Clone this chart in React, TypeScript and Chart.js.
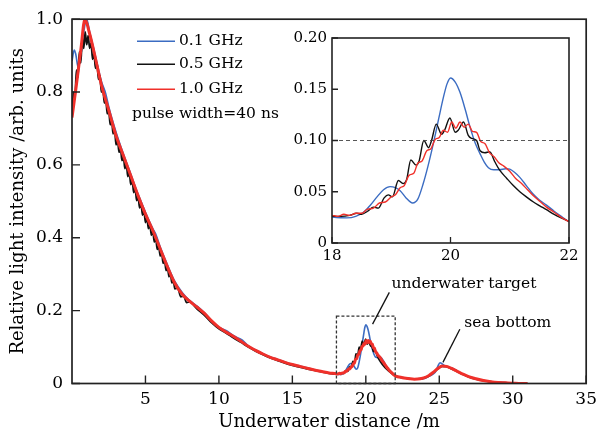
import React, { useEffect, useRef } from "react";
import { Chart, registerables } from "chart.js";

Chart.register(...registerables);

const FONT = "'DejaVu Serif', serif";

const seriesLabels = ["0.1 GHz", "0.5 GHz", "1.0 GHz"];
const seriesColors = ["#3b6cc2", "#111111", "#f0302a"];
const noteText = "pulse width=40 ns";
const xTitle = "Underwater distance /m";
const yTitle = "Relative light intensity /arb. units";

const xTicksMain = [5, 10, 15, 20, 25, 30, 35];
const yTicksMain = [0, 0.2, 0.4, 0.6, 0.8, 1.0];
const xTicksInset = [18, 20, 22];
const yTicksInset = [0, 0.05, 0.1, 0.15, 0.2];

// 0.1 GHz (blue)
const blueD = [
  0, 0.15, 0.25, 0.43, 0.6, 0.8, 1.0, 1.2, 1.5, 2.0, 2.3, 2.5, 3.0, 3.5, 4.0, 4.4, 4.6, 5.0, 5.5, 5.7,
  6.0, 6.5, 7.0, 7.5, 8.0, 8.6, 9.0, 9.5, 10.0, 10.6, 11.0, 11.6, 12.0, 12.5, 13.0, 13.5, 14.0, 14.5,
  15.0, 15.5, 16.0, 16.5, 17.0, 17.5,
  18.0, 18.25, 18.4, 18.53, 18.65, 18.76, 18.87, 18.98, 19.07, 19.15, 19.25, 19.36, 19.45, 19.54, 19.62,
  19.71, 19.8, 19.88, 19.94, 20.0, 20.08, 20.16, 20.25, 20.33, 20.42, 20.5, 20.57, 20.64, 20.73, 20.83,
  20.93, 21.0, 21.08, 21.17, 21.28, 21.39, 21.5, 21.62, 21.75, 21.87, 22.0,
  22.5, 23.0, 23.3, 23.7, 24.0, 24.3, 24.55, 24.75, 24.9, 25.05, 25.2, 25.4, 25.6, 25.9, 26.2, 26.6,
  27.0, 27.5, 28.0, 28.5, 29.0, 29.5, 30.0, 30.6, 31.0,
];
const blueV = [
  0.885, 0.915, 0.905, 0.866, 0.9, 0.965, 1.0, 0.965, 0.915, 0.83, 0.795, 0.76, 0.69, 0.63, 0.575, 0.53,
  0.51, 0.47, 0.425, 0.41, 0.375, 0.325, 0.28, 0.25, 0.228, 0.21, 0.195, 0.173, 0.155, 0.143, 0.131,
  0.119, 0.103, 0.092, 0.082, 0.073, 0.066, 0.059, 0.053, 0.048, 0.043, 0.038, 0.033, 0.029,
  0.0254, 0.0245, 0.026, 0.03, 0.037, 0.045, 0.052, 0.055, 0.054, 0.051, 0.044, 0.039, 0.043, 0.058,
  0.075, 0.097, 0.121, 0.142, 0.155, 0.161, 0.157, 0.147, 0.13, 0.113, 0.097, 0.087, 0.079, 0.0735,
  0.0715, 0.0715, 0.0725, 0.072, 0.069, 0.064, 0.056, 0.048, 0.042, 0.037, 0.031, 0.026, 0.021,
  0.016, 0.013, 0.012, 0.012, 0.014, 0.02, 0.025, 0.033, 0.047, 0.057, 0.054, 0.048, 0.046, 0.042,
  0.035, 0.026, 0.019, 0.013, 0.008, 0.005, 0.003, 0.002, 0.001, 0, 0,
];

// 0.5 GHz (black)
const blackD = [
  0.0, 0.1, 0.2, 0.3, 0.4, 0.5, 0.6, 0.7, 0.8, 0.9, 1.0, 1.1, 1.2, 1.3, 1.4, 1.5, 1.6, 1.7, 1.8, 1.9,
  2.0, 2.1, 2.2, 2.3, 2.4, 2.5, 2.6, 2.7, 2.8, 2.9, 3.0, 3.1, 3.2, 3.3, 3.4, 3.5, 3.6, 3.7, 3.8, 3.9,
  4.0, 4.1, 4.2, 4.3, 4.4, 4.5, 4.6, 4.7, 4.8, 4.9, 5.0, 5.1, 5.2, 5.3, 5.4, 5.5, 5.6, 5.7, 5.8, 5.9,
  6.0, 6.1, 6.2, 6.3, 6.4, 6.5, 6.6, 6.7, 6.8, 6.9, 7.0, 7.2, 7.4, 7.6, 7.8, 8.0,
  8.5, 9.0, 9.5, 10.0, 10.5, 11.0, 11.5, 12.0, 12.5, 13.0, 13.5, 14.0, 14.5, 15.0, 15.5, 16.0, 16.5,
  17.0, 17.5,
  18.0, 18.15, 18.3, 18.42, 18.5, 18.6, 18.7, 18.78, 18.88, 18.95, 19.02, 19.12, 19.2, 19.26, 19.33,
  19.42, 19.47, 19.55, 19.63, 19.68, 19.76, 19.85, 19.9, 19.99, 20.08, 20.13, 20.22, 20.3, 20.36,
  20.44, 20.5, 20.58, 20.66, 20.75, 20.83, 20.95, 21.06, 21.17, 21.28, 21.4, 21.5, 21.62, 21.75,
  21.87, 22.0,
  22.5, 23.0, 23.3, 23.7, 24.0, 24.3, 24.6, 24.9, 25.2, 25.5, 25.8, 26.2, 26.6, 27.0, 27.5, 28.0,
  28.5, 29.0, 29.5, 30.0, 30.6, 31.0,
];
const blackV = [
  0.74, 0.8, 0.78, 0.86, 0.84, 0.91, 0.88, 0.95, 0.92, 0.965, 0.93, 0.955, 0.92, 0.935, 0.89, 0.905,
  0.865, 0.88, 0.835, 0.845, 0.8, 0.81, 0.77, 0.78, 0.74, 0.75, 0.71, 0.72, 0.685, 0.695, 0.655,
  0.668, 0.635, 0.646, 0.612, 0.624, 0.59, 0.602, 0.568, 0.58, 0.546, 0.558, 0.524, 0.536, 0.502,
  0.514, 0.482, 0.494, 0.462, 0.474, 0.442, 0.455, 0.425, 0.437, 0.407, 0.419, 0.388, 0.399, 0.368,
  0.379, 0.35, 0.359, 0.33, 0.339, 0.31, 0.319, 0.293, 0.301, 0.276, 0.283, 0.26, 0.262, 0.238,
  0.24, 0.222, 0.224,
  0.205, 0.188, 0.167, 0.15, 0.138, 0.125, 0.113, 0.1, 0.089, 0.079, 0.07, 0.063, 0.056, 0.05,
  0.045, 0.04, 0.036, 0.032, 0.028,
  0.026, 0.026, 0.027, 0.029, 0.028, 0.031, 0.035, 0.034, 0.044, 0.047, 0.045, 0.061, 0.058, 0.062,
  0.081, 0.076, 0.08, 0.1, 0.093, 0.1, 0.116, 0.106, 0.11, 0.122, 0.108, 0.11, 0.118, 0.105, 0.102,
  0.1, 0.09, 0.088, 0.089, 0.079, 0.071, 0.063, 0.056, 0.05, 0.045, 0.04, 0.0365, 0.0325, 0.028,
  0.0245, 0.021,
  0.016, 0.013, 0.012, 0.013, 0.016, 0.021, 0.03, 0.04, 0.047, 0.046, 0.041, 0.033, 0.025, 0.018,
  0.012, 0.008, 0.005, 0.003, 0.002, 0.001, 0, 0,
];

// 1.0 GHz (red)
const redD = [
  0, 0.3, 0.6, 0.88, 1.2, 1.5, 2.0, 2.5, 3.0, 3.5, 4.0, 4.5, 5.0, 5.5, 6.0, 6.5, 7.0, 7.5, 8.0, 8.5,
  9.0, 9.5, 10.0, 10.5, 11.0, 11.5, 12.0, 12.5, 13.0, 13.5, 14.0, 14.5, 15.0, 15.5, 16.0, 16.5, 17.0,
  17.5,
  18.0, 18.1, 18.2, 18.3, 18.4, 18.5, 18.6, 18.7, 18.8, 18.9, 19.0, 19.07, 19.15, 19.22, 19.3, 19.38,
  19.45, 19.52, 19.6, 19.67, 19.74, 19.81, 19.88, 19.95, 20.02, 20.09, 20.16, 20.23, 20.3, 20.37,
  20.44, 20.51, 20.58, 20.66, 20.74, 20.82, 20.9, 21.0, 21.1, 21.2, 21.3, 21.4, 21.5, 21.62, 21.75,
  21.87, 22.0,
  22.5, 23.0, 23.3, 23.7, 24.0, 24.3, 24.6, 24.9, 25.2, 25.5, 25.8, 26.2, 26.6, 27.0, 27.5, 28.0,
  28.5, 29.0, 29.5, 30.0, 30.6, 31.0,
];
const redV = [
  0.73, 0.82, 0.915, 1.0, 0.96, 0.91, 0.82, 0.75, 0.68, 0.625, 0.57, 0.515, 0.465, 0.42, 0.37, 0.32,
  0.275, 0.245, 0.226, 0.21, 0.193, 0.172, 0.154, 0.141, 0.129, 0.116, 0.102, 0.091, 0.081, 0.072,
  0.065, 0.058, 0.052, 0.047, 0.042, 0.037, 0.033, 0.029,
  0.027, 0.026, 0.028, 0.027, 0.029, 0.029, 0.033, 0.034, 0.039, 0.04, 0.045, 0.047, 0.054, 0.056,
  0.066, 0.068, 0.078, 0.08, 0.09, 0.092, 0.101, 0.103, 0.11, 0.108, 0.118, 0.112, 0.118, 0.113,
  0.116, 0.109, 0.108, 0.099, 0.097, 0.088, 0.084, 0.078, 0.075, 0.07, 0.063, 0.058, 0.052, 0.046,
  0.041, 0.035, 0.03, 0.025, 0.021,
  0.016, 0.013, 0.012, 0.013, 0.016, 0.022, 0.031, 0.041, 0.048, 0.047, 0.042, 0.034, 0.026, 0.019,
  0.013, 0.008, 0.005, 0.003, 0.002, 0.001, 0, 0,
];

// annotation anchors in data units
const boxRange = { x0: 18, x1: 22, y0: 0, y1: 0.185 };
const targetNote = { text: "underwater target", tx: 21.75, ty: 0.272, lx0: 21.6, ly0: 0.25, lx1: 20.46, ly1: 0.163 };
const bottomNote = { text: "sea bottom", tx: 26.7, ty: 0.165, lx0: 26.4, ly0: 0.149, lx1: 25.25, ly1: 0.058 };

const toPts = (d: number[], v: number[]) => d.map((x, i) => ({ x, y: v[i] }));

function makeDatasets(widths: number[]) {
  const src = [
    [blueD, blueV],
    [blackD, blackV],
    [redD, redV],
  ];
  const orders = [2, 1, 0];
  return src.map(([d, v], i) => ({
    label: seriesLabels[i],
    data: toPts(d as number[], v as number[]),
    borderColor: seriesColors[i],
    backgroundColor: seriesColors[i],
    borderWidth: widths[i],
    pointRadius: 0,
    fill: false,
    cubicInterpolationMode: "monotone" as const,
    order: orders[i],
  }));
}

const TEXT = "#000";

const mainDecor = {
  id: "mainDecor",
  afterDatasetsDraw(chart: any) {
    const { ctx, chartArea: a, scales } = chart;
    const x = scales.x;
    const y = scales.y;
    ctx.save();
    // frame
    ctx.strokeStyle = "#222";
    ctx.lineWidth = 1.7;
    ctx.setLineDash([]);
    ctx.strokeRect(a.left, a.top, a.right - a.left, a.bottom - a.top);
    // inward ticks
    ctx.lineWidth = 1.4;
    ctx.beginPath();
    xTicksMain.forEach((v) => {
      const px = x.getPixelForValue(v);
      ctx.moveTo(px, a.bottom);
      ctx.lineTo(px, a.bottom - 8);
    });
    yTicksMain.forEach((v) => {
      const py = y.getPixelForValue(v);
      ctx.moveTo(a.left, py);
      ctx.lineTo(a.left + 8, py);
    });
    ctx.stroke();
    // dashed box
    ctx.strokeStyle = "#333";
    ctx.lineWidth = 1.3;
    ctx.setLineDash([3, 2]);
    const bx0 = x.getPixelForValue(boxRange.x0);
    const bx1 = x.getPixelForValue(boxRange.x1);
    const by0 = y.getPixelForValue(boxRange.y0);
    const by1 = y.getPixelForValue(boxRange.y1);
    ctx.strokeRect(bx0, by1, bx1 - bx0, by0 - by1);
    ctx.setLineDash([]);
    // annotations
    ctx.strokeStyle = "#111";
    ctx.lineWidth = 1.3;
    ctx.fillStyle = TEXT;
    ctx.font = `15.5px ${FONT}`;
    ctx.textBaseline = "middle";
    ctx.textAlign = "left";
    [targetNote, bottomNote].forEach((n) => {
      ctx.beginPath();
      ctx.moveTo(x.getPixelForValue(n.lx0), y.getPixelForValue(n.ly0));
      ctx.lineTo(x.getPixelForValue(n.lx1), y.getPixelForValue(n.ly1));
      ctx.stroke();
      ctx.fillText(n.text, x.getPixelForValue(n.tx), y.getPixelForValue(n.ty));
    });
    // legend
    const lx0 = a.left + 65;
    const lx1 = a.left + 103;
    const rows = [a.top + 22, a.top + 45, a.top + 70];
    ctx.font = `15.5px ${FONT}`;
    seriesLabels.forEach((lab, i) => {
      ctx.strokeStyle = seriesColors[i];
      ctx.lineWidth = i === 2 ? 1.6 : 1.4;
      ctx.beginPath();
      ctx.moveTo(lx0, rows[i]);
      ctx.lineTo(lx1, rows[i]);
      ctx.stroke();
      ctx.fillStyle = TEXT;
      ctx.fillText(lab, lx1 + 4, rows[i]);
    });
    ctx.fillText(noteText, a.left + 60, a.top + 95);
    ctx.restore();
  },
};

const insetDecor = {
  id: "insetDecor",
  afterDatasetsDraw(chart: any) {
    const { ctx, chartArea: a, scales } = chart;
    const x = scales.x;
    const y = scales.y;
    ctx.save();
    // dashed reference at 0.10
    ctx.strokeStyle = "#444";
    ctx.lineWidth = 0.9;
    ctx.setLineDash([4, 3]);
    const py = y.getPixelForValue(0.1);
    ctx.beginPath();
    ctx.moveTo(a.left, py);
    ctx.lineTo(a.right, py);
    ctx.stroke();
    ctx.setLineDash([]);
    ctx.strokeStyle = "#222";
    ctx.lineWidth = 1.6;
    ctx.strokeRect(a.left, a.top, a.right - a.left, a.bottom - a.top);
    ctx.lineWidth = 1.3;
    ctx.beginPath();
    xTicksInset.forEach((v) => {
      const px = x.getPixelForValue(v);
      ctx.moveTo(px, a.bottom);
      ctx.lineTo(px, a.bottom - 6);
    });
    yTicksInset.forEach((v) => {
      const p = y.getPixelForValue(v);
      ctx.moveTo(a.left, p);
      ctx.lineTo(a.left + 6, p);
    });
    ctx.stroke();
    ctx.restore();
  },
};

export default function App() {
  const mainRef = useRef<HTMLCanvasElement>(null);
  const insetRef = useRef<HTMLCanvasElement>(null);

  useEffect(() => {
    const tickFont = { family: FONT, size: 17 };
    const main = new Chart(mainRef.current as HTMLCanvasElement, {
      type: "line",
      data: { datasets: makeDatasets([1.6, 1.8, 3]) as any },
      options: {
        animation: false,
        responsive: false,
        events: [],
        layout: { padding: { top: 19, right: 13, left: 0, bottom: 0 } },
        plugins: { legend: { display: false }, tooltip: { enabled: false } },
        scales: {
          x: {
            type: "linear",
            min: 0,
            max: 35,
            afterBuildTicks: (s: any) => {
              s.ticks = xTicksMain.map((v) => ({ value: v }));
            },
            ticks: { font: tickFont, color: TEXT, padding: 6, maxRotation: 0, autoSkip: false },
            grid: { display: false, drawTicks: false },
            border: { display: false },
            title: {
              display: true,
              text: xTitle,
              font: { family: FONT, size: 18 },
              color: TEXT,
              padding: { top: 0, bottom: 1 },
            },
            afterFit: (s: any) => {
              s.height = 50.5;
            },
          },
          y: {
            type: "linear",
            min: 0,
            max: 1,
            afterBuildTicks: (s: any) => {
              s.ticks = yTicksMain.map((v) => ({ value: v }));
            },
            ticks: {
              font: tickFont,
              color: TEXT,
              padding: 9,
              autoSkip: false,
              callback: (v: any) => (Number(v) === 0 ? "0" : Number(v).toFixed(1)),
            },
            grid: { display: false, drawTicks: false },
            border: { display: false },
            title: {
              display: true,
              text: yTitle,
              font: { family: FONT, size: 18 },
              color: TEXT,
              padding: { top: 8, bottom: 0 },
            },
            afterFit: (s: any) => {
              s.width = 72;
            },
          },
        },
      },
      plugins: [mainDecor],
    });

    const insetFont = { family: FONT, size: 15 };
    const inset = new Chart(insetRef.current as HTMLCanvasElement, {
      type: "line",
      data: { datasets: makeDatasets([1.4, 1.4, 1.4]) as any },
      options: {
        animation: false,
        responsive: false,
        events: [],
        layout: { padding: { top: 28, right: 21, left: 0, bottom: 0 } },
        plugins: { legend: { display: false }, tooltip: { enabled: false } },
        scales: {
          x: {
            type: "linear",
            min: 18,
            max: 22,
            afterBuildTicks: (s: any) => {
              s.ticks = xTicksInset.map((v) => ({ value: v }));
            },
            ticks: { font: insetFont, color: TEXT, padding: 4, maxRotation: 0, autoSkip: false },
            grid: { display: false, drawTicks: false },
            border: { display: false },
            afterFit: (s: any) => {
              s.height = 32;
            },
          },
          y: {
            type: "linear",
            min: 0,
            max: 0.2,
            afterBuildTicks: (s: any) => {
              s.ticks = yTicksInset.map((v) => ({ value: v }));
            },
            ticks: {
              font: insetFont,
              color: TEXT,
              padding: 5,
              autoSkip: false,
              callback: (v: any) => (Number(v) === 0 ? "0" : Number(v).toFixed(2)),
            },
            grid: { display: false, drawTicks: false },
            border: { display: false },
            afterFit: (s: any) => {
              s.width = 52;
            },
          },
        },
      },
      plugins: [insetDecor],
    });

    return () => {
      main.destroy();
      inset.destroy();
    };
  }, []);

  return (
    <div
      style={{
        position: "fixed",
        left: 0,
        top: 0,
        width: 603,
        height: 434,
        background: "#fff",
        overflow: "hidden",
      }}
    >
      <canvas
        ref={mainRef}
        width={603}
        height={434}
        style={{ position: "absolute", left: 0, top: 0, width: 603, height: 434 }}
      />
      <canvas
        ref={insetRef}
        width={310}
        height={265}
        style={{ position: "absolute", left: 280, top: 10, width: 310, height: 265 }}
      />
    </div>
  );
}
